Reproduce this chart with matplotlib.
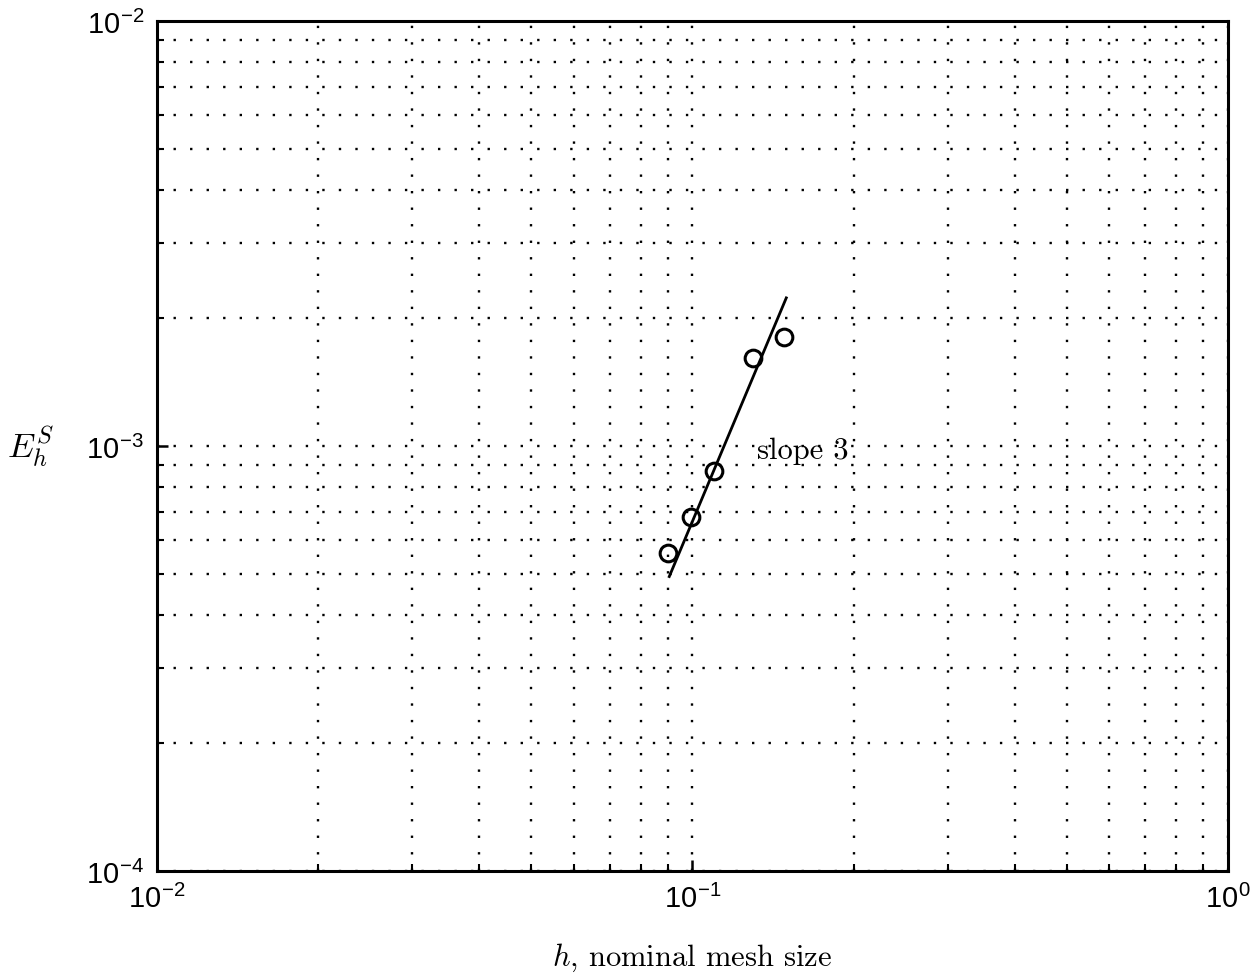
import numpy as np
import matplotlib
matplotlib.use('Agg')
import matplotlib.pyplot as plt
from matplotlib.ticker import LogLocator, FuncFormatter, NullFormatter

plt.rcParams['mathtext.fontset'] = 'custom'
plt.rcParams['mathtext.rm'] = 'Liberation Sans'
plt.rcParams['mathtext.it'] = 'cmmi10'
plt.rcParams['font.family'] = ['Liberation Sans', 'DejaVu Sans']

# data
h_vals = [0.0902, 0.0995, 0.1095, 0.1295, 0.1485]
err_vals = [5.6e-4, 6.8e-4, 8.75e-4, 1.61e-3, 1.81e-3]

# slope-3 reference line
line_h = [0.0905, 0.1497]
line_c = 4.93e-4 / 0.0905**3
line_e = [line_c * x**3 for x in line_h]

fig = plt.figure(figsize=(12.53, 9.79), dpi=100)
ax = fig.add_axes([0.1253, 0.1093, 0.8547, 0.8682])

ax.plot(line_h, line_e, color='black', lw=2.0)
ax.plot(h_vals, err_vals, 'o', mfc='none', mec='black', ms=12, mew=2.2)

ax.set_xscale('log')
ax.set_yscale('log')
ax.set_xlim(1e-2, 1e0)
ax.set_ylim(1e-4, 1e-2)

def fmt(v, pos):
    e = int(round(np.log10(v)))
    return r'$10^{%d}$' % e

for a in (ax.xaxis, ax.yaxis):
    a.set_major_locator(LogLocator(base=10, numticks=10))
    a.set_minor_locator(LogLocator(base=10, subs=np.arange(2, 10), numticks=20))
    a.set_major_formatter(FuncFormatter(fmt))
    a.set_minor_formatter(NullFormatter())

ax.grid(True, which='both', color='black', linestyle=(0, (1, 6)), lw=1.7)
ax.tick_params(which='major', direction='in', labelsize=21, length=8, width=1.8, pad=9)
ax.tick_params(which='minor', direction='in', length=5, width=1.5)
for s in ax.spines.values():
    s.set_linewidth(2.2)

ax.text(0.132, 9.75e-4, 'slope 3', family='cmr10', fontsize=22, va='center', ha='left')

ax.set_xlabel(r'$h$, nominal mesh size', family='cmr10', fontsize=22, labelpad=20)
ax.set_ylabel(r'$E_h^S$', fontsize=25, rotation=0, labelpad=40, va='center')

fig.savefig('out.png', dpi=100)
